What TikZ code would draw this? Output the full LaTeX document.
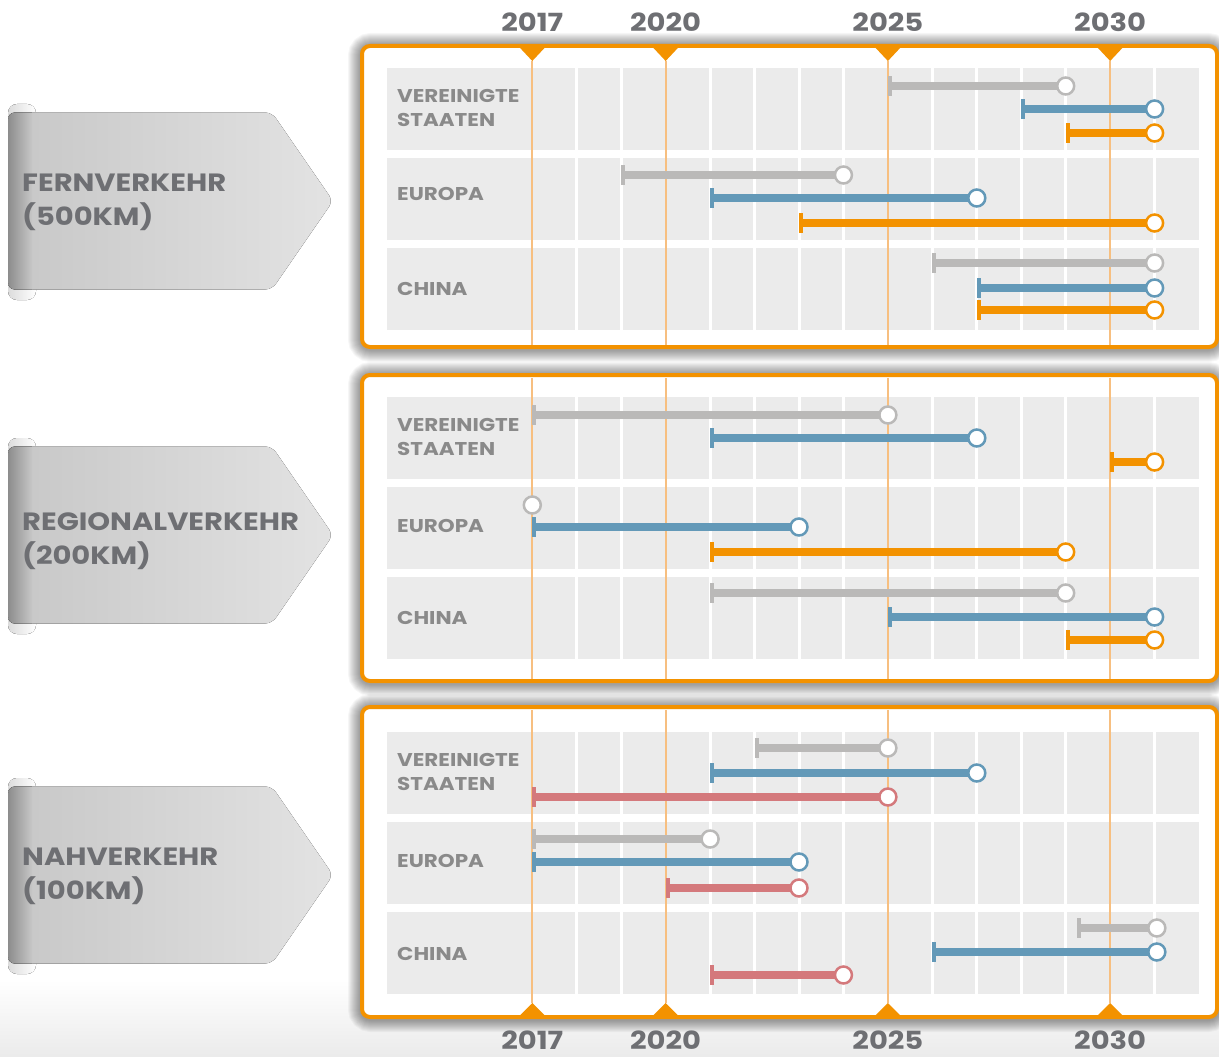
\documentclass[tikz,border=0pt]{standalone}
\usepackage{fontspec}
\setmainfont{Poppins}[FakeStretch=1.16]
\definecolor{cOr}{HTML}{F39200}
\definecolor{cOrL}{HTML}{F7BF80}
\definecolor{cGr}{HTML}{BAB9B8}
\definecolor{cBl}{HTML}{6399B8}
\definecolor{cRd}{HTML}{D4797C}
\definecolor{cRow}{HTML}{EBEBEB}
\definecolor{cTxt}{HTML}{6E6F73}
\definecolor{cRowTxt}{HTML}{8A8A8A}
\newcommand\yx[1]{532.3+44.45*(#1-2017)}
\newcommand\tbar[4]{%
  \draw[#4,barline] ({\yx{#2}},#1) -- ({\yx{#3}},#1);
  \fill[#4] ({\yx{#2}},#1-10) rectangle ({\yx{#2}+4},#1+10);
  \draw[#4,endring] ({\yx{#3}},#1) circle (8.5);
}
\newcommand\labeltag[1]{%
  \fill[left color=white!45!black!25, right color=white] (8,#1-97) [rounded corners=9] rectangle (36,#1+99);
  \begin{scope}
    \clip[rounded corners=7] (8,#1-88.5) -- (272,#1-88.5) -- (333,#1) -- (272,#1+88.5) -- (8,#1+88.5) -- cycle;
    \fill[left color=black!22, right color=black!11] (8,#1-89) rectangle (333,#1+89);
    \fill[left color=black!45, right color=black!22] (8,#1-89) rectangle (32,#1+89);
  \end{scope}
}
\newcommand\panel[3]{% #1 = top border, #2 = top of first row, #3 = bottom border
  \foreach \i in {1,...,12}
    \draw[black, opacity=0.035, line width=2*\i+4, rounded corners=9] (362,#1+1) rectangle (1217,#3+1);
  \draw[cOr, line width=4, fill=white, rounded corners=8] (362,#1) rectangle (1217,#3);
  \foreach \r in {0,1,2} {
    \fill[cRow] (387,#2+90*\r) rectangle (1199,#2+90*\r+82);
    \foreach \yr in {2018,2019,2021,2022,2023,2024,2026,2027,2028,2029,2031}
      \draw[white, line width=3] ({\yx{\yr}},#2+90*\r) -- ({\yx{\yr}},#2+90*\r+82);
  }
}
\tikzset{
  barline/.style={line width=8},
  endring/.style={line width=2.5, fill=white},
  yearlbl/.style={text=cTxt, font=\fontsize{25}{25}\selectfont\bfseries, inner sep=0},
  rowlbl/.style={text=cRowTxt, font=\fontsize{18.5}{24}\selectfont\bfseries, align=left, anchor=west, inner sep=0},
  catlbl/.style={text=cTxt, font=\fontsize{25}{34}\selectfont\bfseries, align=left, anchor=west, inner sep=0},
  yline/.style={cOrL, line width=2},
}
\begin{document}
\begin{tikzpicture}[x=1pt,y=-1pt]
\useasboundingbox (0,0) rectangle (1219,1057);
\fill[white] (0,0) rectangle (1219,1057);
\fill[top color=white, bottom color=black!8] (0,980) rectangle (1219,1057);

% left category tags
\labeltag{201}
\labeltag{535}
\labeltag{875}
\node[catlbl] (c1) at (22,202) {FERNVERKEHR\\(500KM)};
\node[catlbl] (c2) at (22,541) {REGIONALVERKEHR\\(200KM)};
\node[catlbl] (c3) at (22,876) {NAHVERKEHR\\(100KM)};

% panels
\panel{46}{68}{347}
\panel{375}{397}{681}
\panel{707}{732}{1017}

% orange year lines
\foreach \yr in {2017,2020,2025,2030} {
  \draw[yline] ({\yx{\yr}},61) -- ({\yx{\yr}},345);
  \draw[yline] ({\yx{\yr}},378) -- ({\yx{\yr}},679);
  \draw[yline] ({\yx{\yr}},710) -- ({\yx{\yr}},1003);
  \fill[cOr] ({\yx{\yr}-15},45) -- ({\yx{\yr}+15},45) -- ({\yx{\yr}},61) -- cycle;
  \fill[cOr] ({\yx{\yr}-15},1018) -- ({\yx{\yr}+15},1018) -- ({\yx{\yr}},1003) -- cycle;
  \node[yearlbl] (yt\yr) at ({\yx{\yr}},22) {\yr};
  \node[yearlbl, anchor=base] (yb\yr) at ({\yx{\yr}},1049) {\yr};
}

% row labels
\node[rowlbl] (r11) at (397,108) {VEREINIGTE\\STAATEN};
\node[rowlbl] (r12) at (397,194) {EUROPA};
\node[rowlbl] (r13) at (397,289) {CHINA};
\node[rowlbl] (r21) at (397,437) {VEREINIGTE\\STAATEN};
\node[rowlbl] (r22) at (397,526) {EUROPA};
\node[rowlbl] (r23) at (397,618) {CHINA};
\node[rowlbl] (r31) at (397,772) {VEREINIGTE\\STAATEN};
\node[rowlbl] (r32) at (397,861) {EUROPA};
\node[rowlbl] (r33) at (397,954) {CHINA};

% panel 1 bars
\tbar{86}{2025}{2029}{cGr}
\tbar{109}{2028}{2031}{cBl}
\tbar{133}{2029}{2031}{cOr}
\tbar{175}{2019}{2024}{cGr}
\tbar{198}{2021}{2027}{cBl}
\tbar{223}{2023}{2031}{cOr}
\tbar{263}{2026}{2031}{cGr}
\tbar{288}{2027}{2031}{cBl}
\tbar{310}{2027}{2031}{cOr}
% panel 2 bars
\tbar{415}{2017}{2025}{cGr}
\tbar{438}{2021}{2027}{cBl}
\tbar{462}{2030}{2031}{cOr}
\draw[cGr,endring] ({\yx{2017}},505) circle (8.5);
\tbar{527}{2017}{2023}{cBl}
\tbar{552}{2021}{2029}{cOr}
\tbar{593}{2021}{2029}{cGr}
\tbar{617}{2025}{2031}{cBl}
\tbar{640}{2029}{2031}{cOr}
% panel 3 bars
\tbar{748}{2022}{2025}{cGr}
\tbar{773}{2021}{2027}{cBl}
\tbar{797}{2017}{2025}{cRd}
\tbar{839}{2017}{2021}{cGr}
\tbar{862}{2017}{2023}{cBl}
\tbar{888}{2020}{2023}{cRd}
\tbar{928}{2029.25}{2031.05}{cGr}
\tbar{952}{2026}{2031.05}{cBl}
\tbar{975}{2021}{2024}{cRd}
\end{tikzpicture}
\end{document}
